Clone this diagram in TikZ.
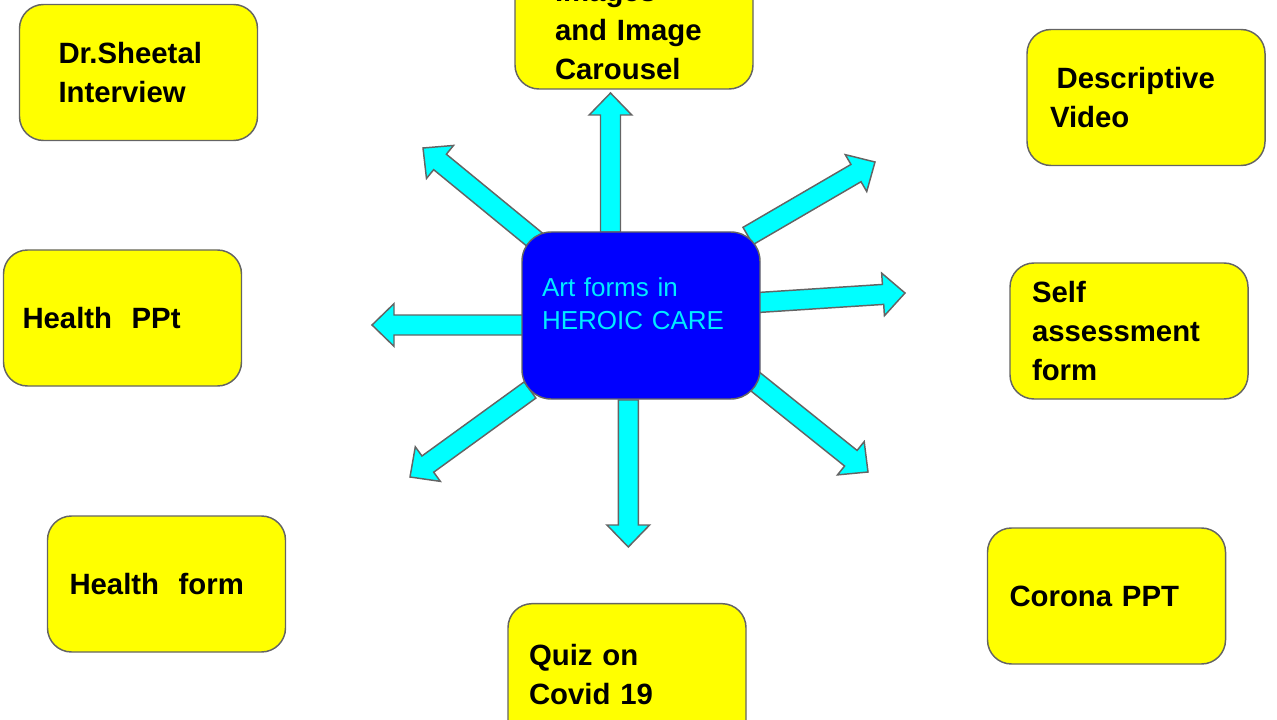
\documentclass[tikz,border=0pt]{standalone}
\usepackage{fontspec}
\setmainfont{Liberation Sans}
\usetikzlibrary{calc,backgrounds}

\definecolor{edgegray}{RGB}{100,100,100}
\definecolor{leafyellow}{RGB}{255,255,0}
\definecolor{hubblue}{RGB}{0,0,255}
\definecolor{hubtext}{RGB}{0,235,255}
\definecolor{shaftcyan}{RGB}{0,255,255}

\tikzset{
  leaf/.style={draw=edgegray, line width=1.1pt, fill=leafyellow, rounded corners=18pt,
    minimum height=102pt, align=left, text=black,
    font=\fontsize{22}{29.25}\selectfont\bfseries},
  hub/.style={draw=edgegray, line width=1.1pt, fill=hubblue, rounded corners=22pt,
    minimum height=125.25pt, inner xsep=15pt, text width=148.5pt, align=left,
    text depth=43pt, text=hubtext, font=\fontsize{19.5}{24.75}\selectfont},
  fatarrow/.style={draw=edgegray, line width=1.1pt, fill=shaftcyan, line join=miter}
}

% block arrow from #1 to #2: shaft 15pt, head 32pt wide, 16.5pt long
\newcommand{\fatarrow}[2]{%
  \draw[fatarrow] let \p1=($(#2)-(#1)$), \n1={atan2(\y1,\x1)} in
    ($(#1)+(\n1+90:7.5pt)$) -- ($(#2)!16.5pt!(#1)+(\n1+90:7.5pt)$)
    -- ($(#2)!16.5pt!(#1)+(\n1+90:16pt)$) -- (#2)
    -- ($(#2)!16.5pt!(#1)+(\n1-90:16pt)$) -- ($(#2)!16.5pt!(#1)+(\n1-90:7.5pt)$)
    -- ($(#1)+(\n1-90:7.5pt)$) -- cycle;}

\begin{document}
\begin{tikzpicture}[x=0.75pt,y=-0.75pt]
  \clip (0,0) rectangle (1277,720);

  \node[hub] (hub) at (641,315.5) {Art forms in\\HEROIC CARE};

  \node[leaf, inner xsep=29.25pt, text width=120pt] (sheetal) at (138.5,72.5) {Dr.Sheetal\\Interview};
  \node[leaf, inner xsep=30pt, text width=118.5pt, minimum height=87pt] (images) at (634,31) {Images\\and Image\\Carousel};
  \node[leaf, inner xsep=17.25pt, text width=144pt] (video) at (1146,97.5) {\hspace{5pt}Descriptive\\Video};
  \node[leaf, inner xsep=14.25pt, text width=150pt] (healthppt) at (122.5,318) {Health\ \ PPt};
  \node[leaf, inner xsep=16.5pt, text width=145.5pt] (selfform) at (1129,331) {Self\\assessment\\form};
  \node[leaf, inner xsep=16.5pt, text width=145.5pt] (healthform) at (166.5,584) {Health\ \ form};
  \node[leaf, inner xsep=16.5pt, text width=145.5pt] (corona) at (1106.5,596) {Corona PPT};
  \node[leaf, inner xsep=15.75pt, text width=147pt, minimum height=107pt] (quiz) at (627,675) {Quiz on\\Covid 19};

  % arrow ends
  \coordinate (upT) at (610.5,232);   \coordinate (upH) at (610.5,93);
  \coordinate (ulT) at (540,244);     \coordinate (ulH) at (423,148);
  \coordinate (urT) at (748,236);     \coordinate (urH) at (875,162);
  \coordinate (rtT) at (758,302.5);   \coordinate (rtH) at (905,293);
  \coordinate (ltT) at (524,325);     \coordinate (ltH) at (372,325);
  \coordinate (llT) at (530,390);     \coordinate (llH) at (410,477);
  \coordinate (dnT) at (628.3,400);   \coordinate (dnH) at (628.3,547);
  \coordinate (lrT) at (752,379);     \coordinate (lrH) at (868,472);

  \begin{scope}[on background layer]
    \fatarrow{upT}{upH}
    \fatarrow{ulT}{ulH}
    \fatarrow{urT}{urH}
    \fatarrow{rtT}{rtH}
    \fatarrow{ltT}{ltH}
    \fatarrow{llT}{llH}
    \fatarrow{dnT}{dnH}
    \fatarrow{lrT}{lrH}
  \end{scope}
\end{tikzpicture}
\end{document}
